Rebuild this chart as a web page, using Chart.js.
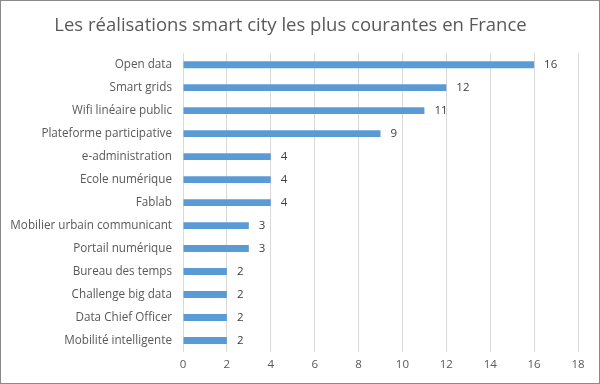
<!DOCTYPE html>
<html>
<head>
<meta charset="utf-8">
<script src="https://cdn.jsdelivr.net/npm/chart.js@4/dist/chart.umd.min.js"></script>
<style>
  html, body { margin: 0; padding: 0; background: #fff; }
  #frame {
    width: 600px;
    height: 384px;
    box-sizing: border-box;
    border: 1px solid #8a8a8a;
    background: #fff;
  }
  #chart { display: block; }
</style>
</head>
<body>
<div id="frame"><canvas id="chart" width="598" height="382"></canvas></div>
<script>
const titleText = 'Les réalisations smart city les plus courantes en France';

const categories = [
  'Open data',
  'Smart grids',
  'Wifi linéaire public',
  'Plateforme participative',
  'e-administration',
  'Ecole numérique',
  'Fablab',
  'Mobilier urbain communicant',
  'Portail numérique',
  'Bureau des temps',
  'Challenge big data',
  'Data Chief Officer',
  'Mobilité intelligente'
];

const counts = [16, 12, 11, 9, 4, 4, 4, 3, 3, 2, 2, 2, 2];

const xTicks = [0, 2, 4, 6, 8, 10, 12, 14, 16, 18];

const textColor = '#595959';
const barColor = '#5b9bd5';
const fontFamily = '"Open Sans", "DejaVu Sans", sans-serif';

// draws the value just after the end of each bar
const valueLabels = {
  id: 'valueLabels',
  afterDatasetsDraw(chart) {
    const ctx = chart.ctx;
    const meta = chart.getDatasetMeta(0);
    ctx.save();
    ctx.font = '11.5px ' + fontFamily;
    ctx.fillStyle = '#404040';
    ctx.textAlign = 'left';
    ctx.textBaseline = 'middle';
    meta.data.forEach((bar, i) => {
      ctx.fillText(String(counts[i]), bar.x + 10, bar.y);
    });
    ctx.restore();
  }
};

new Chart(document.getElementById('chart').getContext('2d'), {
  type: 'bar',
  data: {
    labels: categories,
    datasets: [{
      data: counts,
      backgroundColor: barColor,
      borderWidth: 0,
      categoryPercentage: 1,
      barPercentage: 0.3
    }]
  },
  options: {
    indexAxis: 'y',
    responsive: false,
    animation: false,
    layout: { padding: { left: 2, right: 21, top: 0, bottom: 0 } },
    plugins: {
      legend: { display: false },
      tooltip: { enabled: false },
      title: {
        display: true,
        text: titleText,
        color: textColor,
        font: { family: fontFamily, size: 18.5, weight: 'normal', lineHeight: 1.2 },
        padding: { top: 14, bottom: 16 }
      }
    },
    scales: {
      x: {
        min: 0,
        max: 18,
        afterBuildTicks(scale) {
          scale.ticks = xTicks.map((v) => ({ value: v }));
        },
        afterFit(scale) { scale.height = 31; },
        grid: { color: '#d9d9d9', drawTicks: false },
        border: { display: false },
        ticks: {
          color: textColor,
          padding: 6,
          font: { family: fontFamily, size: 11.5 }
        }
      },
      y: {
        afterFit(scale) { scale.width = 180; },
        grid: { display: false, drawTicks: false },
        border: { display: false },
        ticks: {
          color: textColor,
          padding: 11,
          autoSkip: false,
          font: { family: fontFamily, size: 11.7 }
        }
      }
    }
  },
  plugins: [valueLabels]
});
</script>
</body>
</html>
